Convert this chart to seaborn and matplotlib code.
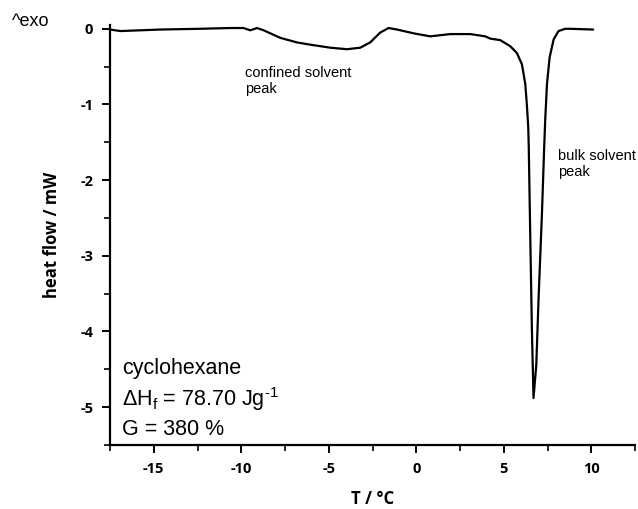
import matplotlib
matplotlib.use("Agg")
import matplotlib.pyplot as plt
import seaborn as sns
import pandas as pd
from matplotlib.ticker import MultipleLocator

# DSC melting trace of cyclohexane confined in a gel
temperature = [-17.49, -16.91, -14.63, -12.34, -10.63, -9.87, -9.49, -9.10,
               -8.72, -7.77, -6.82, -6.06, -4.91, -3.96, -3.20, -2.63,
               -2.06, -1.58, -1.10, -0.15, 0.80, 1.94, 3.09, 3.94, 4.23,
               4.80, 5.37, 5.75, 6.04, 6.23, 6.32, 6.40, 6.43, 6.51,
               6.61, 6.70, 6.86, 6.99, 7.18, 7.31, 7.37, 7.47, 7.62,
               7.85, 8.13, 8.51, 8.80, 10.11]
heat_flow = [-0.01, -0.03, -0.01, 0.00, 0.01, 0.01, -0.02, 0.01,
             -0.02, -0.12, -0.18, -0.21, -0.25, -0.27, -0.25, -0.18,
             -0.05, 0.01, -0.01, -0.06, -0.10, -0.07, -0.07, -0.10, -0.13,
             -0.15, -0.23, -0.32, -0.47, -0.73, -1.00, -1.30, -1.57, -2.68,
             -3.99, -4.88, -4.44, -3.56, -2.46, -1.57, -1.20, -0.73, -0.38,
             -0.14, -0.03, 0.00, 0.00, -0.01]

x_ticks = [-15, -10, -5, 0, 5, 10]
y_ticks = [0, -1, -2, -3, -4, -5]

df = pd.DataFrame({"T": temperature, "heat": heat_flow})

sns.set_style("ticks")
plt.rcParams["font.family"] = ["Liberation Sans", "DejaVu Sans"]
plt.rcParams["axes.unicode_minus"] = False
plt.rcParams["mathtext.fontset"] = "custom"
plt.rcParams["mathtext.rm"] = "Liberation Sans"
plt.rcParams["mathtext.it"] = "Liberation Sans:italic"
plt.rcParams["text.color"] = "black"
plt.rcParams["axes.labelcolor"] = "black"
plt.rcParams["xtick.color"] = "black"
plt.rcParams["ytick.color"] = "black"
plt.rcParams["axes.edgecolor"] = "black"

fig = plt.figure(figsize=(6.38, 5.09), dpi=100)
ax = fig.add_axes([110 / 638, 1 - 445 / 509, (635 - 110) / 638, (445 - 25) / 509])

sns.lineplot(data=df, x="T", y="heat", ax=ax, color="black", linewidth=1.6,
             sort=False, estimator=None)

ax.set_xlim(-17.5, 12.5)
ax.set_ylim(-5.5, 0.05)
ax.set_xticks(x_ticks)
ax.set_yticks(y_ticks)
ax.xaxis.set_minor_locator(MultipleLocator(2.5))
ax.yaxis.set_minor_locator(MultipleLocator(0.5))

for s in ("top", "right"):
    ax.spines[s].set_visible(False)
for s in ("left", "bottom"):
    ax.spines[s].set_linewidth(1.6)

ax.tick_params(which="major", length=6, width=1.4, direction="out",
               labelsize=10.5, pad=6)
ax.tick_params(which="minor", length=4, width=1.2, direction="out")
for lab in ax.get_xticklabels() + ax.get_yticklabels():
    lab.set_fontweight("bold")
    lab.set_family(["Open Sans", "DejaVu Sans"])

ax.set_xlabel("T / °C", fontsize=12, fontweight="bold",
              family=["Open Sans", "DejaVu Sans"], labelpad=10)
ax.set_ylabel("heat flow / mW", fontsize=12, fontweight="bold",
              family=["Open Sans", "DejaVu Sans"], labelpad=14)

fig.text(12 / 638, 1 - 22 / 509, "^exo", fontsize=13, va="center", ha="left")

ax.text(-9.77, -0.69, "confined solvent\npeak", fontsize=10.5, va="center",
        ha="left", linespacing=1.2)
ax.text(8.11, -1.79, "bulk solvent\npeak", fontsize=10.5, va="center",
        ha="left", linespacing=1.2)

ax.text(-16.8, -4.49, "cyclohexane", fontsize=15.5, va="center", ha="left")
ax.text(-16.8, -4.89, r"$\Delta$H$_{\rm f}$ = 78.70 Jg$^{\text{-1}}$",
        fontsize=15.5, va="center", ha="left")
ax.text(-16.8, -5.29, "G = 380 %", fontsize=15.5, va="center", ha="left")

fig.savefig("out.png", dpi=100)
